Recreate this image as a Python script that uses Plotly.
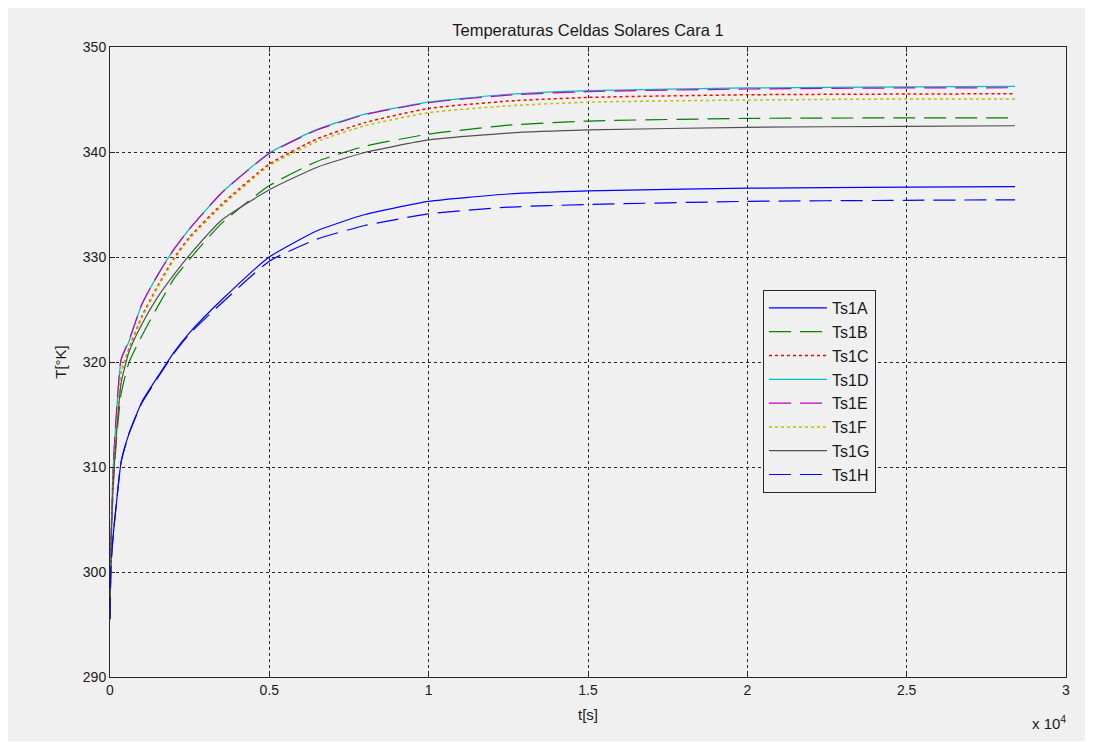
import plotly.graph_objects as go

# time samples [s]
t = [0, 30, 100, 200, 350, 600, 1000, 1500, 2000, 2500, 3500, 5000, 6500, 8000,
     10000, 12500, 15000, 20000, 25000, 28400]

ts1a = [295.5, 300.5, 303.5, 306.5, 310.5, 313.2, 316.2, 318.6, 320.9, 322.8, 325.9, 330.0,
        332.5, 334.05, 335.3, 336.0, 336.3, 336.55, 336.65, 336.7]
ts1b = [296.0, 302.0, 308.0, 312.5, 317.0, 320.0, 322.5, 325.3, 327.9, 329.8, 333.2, 336.8,
        339.1, 340.55, 341.7, 342.55, 342.95, 343.2, 343.25, 343.25]
ts1c = [296.0, 302.5, 309.0, 313.5, 319.0, 321.3, 324.35, 327.25, 329.85, 331.9, 335.0, 338.85,
        341.25, 342.8, 344.15, 344.85, 345.2, 345.45, 345.52, 345.55]
ts1d = [296.0, 303.0, 310.0, 315.0, 320.2, 322.0, 325.5, 328.3, 330.7, 332.7, 336.1, 339.9,
        342.15, 343.6, 344.75, 345.5, 345.85, 346.1, 346.2, 346.25]
ts1e = [296.0, 303.0, 310.0, 315.1, 320.3, 322.1, 325.5, 328.3, 330.7, 332.7, 336.1, 339.85,
        342.1, 343.55, 344.7, 345.42, 345.75, 346.0, 346.1, 346.12]
ts1f = [296.0, 302.5, 309.0, 313.5, 319.0, 321.2, 324.2, 327.1, 329.7, 331.75, 334.8, 338.7,
        341.0, 342.5, 343.75, 344.4, 344.75, 344.95, 345.05, 345.05]
ts1g = [296.0, 302.5, 308.5, 313.0, 318.0, 321.0, 323.6, 326.2, 328.3, 330.2, 333.5, 336.4,
        338.55, 339.95, 341.15, 341.8, 342.1, 342.35, 342.45, 342.5]
ts1h = [295.5, 300.5, 303.5, 306.5, 310.5, 313.2, 316.1, 318.5, 320.8, 322.7, 325.6, 329.6,
        331.7, 333.0, 334.1, 334.75, 335.0, 335.3, 335.4, 335.45]

names = ["Ts1A", "Ts1B", "Ts1C", "Ts1D", "Ts1E", "Ts1F", "Ts1G", "Ts1H"]
series = [ts1a, ts1b, ts1c, ts1d, ts1e, ts1f, ts1g, ts1h]
colors = ["#0000FF", "#008000", "#FF0000", "#00BFBF", "#BF00BF", "#BFBF00", "#505050", "#0000FF"]
dashes = ["solid", "22px,9px", "3px,3px", "solid", "22px,9px", "3px,3px", "solid", "22px,9px"]
widths = [1.2, 1.2, 1.5, 1.2, 1.2, 1.5, 1.2, 1.2]

xtick_vals = [0, 5000, 10000, 15000, 20000, 25000, 30000]
xtick_text = ["0", "0.5", "1", "1.5", "2", "2.5", "3"]
ytick_vals = [290, 300, 310, 320, 330, 340, 350]

FONT = "Arial, Liberation Sans, sans-serif"
BG = "#f0f0f0"
TXT = "#1a1a1a"

# page has an 8px body margin; figure occupies page x 8..1093, y 8..742
OFF = 8
W, H = 1093 - OFF, 742 - OFF
L, R, T, B = 110 - OFF, 27, 47 - OFF, 65
pw, ph = W - L - R, H - T - B
PL, PB = 110, 677  # page coords of plot left / bottom

fig = go.Figure()
for n, s, c, d, w in zip(names, series, colors, dashes, widths):
    fig.add_trace(go.Scatter(x=t, y=s, name=n, mode="lines",
                             line=dict(color=c, width=w, dash=d, shape="spline", smoothing=0.5)))

axis_common = dict(showline=True, linecolor="#262626", linewidth=1, mirror="ticks",
                   ticks="inside", ticklen=5, tickcolor="#262626",
                   showgrid=True, gridcolor="#262626", gridwidth=1, griddash="3px,3px",
                   zeroline=False, tickfont=dict(family=FONT, size=14, color=TXT))

fig.update_layout(
    width=W, height=H,
    margin=dict(l=L, r=R, t=T, b=B),
    paper_bgcolor="white", plot_bgcolor=BG,
    font=dict(family=FONT, size=14, color=TXT),
    title=dict(text="Temperaturas Celdas Solares Cara 1", x=(588 - OFF) / W, xanchor="center",
               y=1 - (30 - OFF) / H, yanchor="middle", font=dict(family=FONT, size=16.5, color=TXT)),
    xaxis=dict(range=[0, 30000], tickvals=xtick_vals, ticktext=xtick_text,
               title=dict(text="t[s]", standoff=12, font=dict(family=FONT, size=15)), **axis_common),
    yaxis=dict(range=[290, 350], tickvals=ytick_vals,
               title=dict(text="T[°K]", standoff=12, font=dict(family=FONT, size=15)), **axis_common),
    legend=dict(x=(763 - PL) / pw, y=(PB - 290) / ph, xanchor="left", yanchor="top",
                bgcolor=BG, bordercolor="#262626", borderwidth=1,
                font=dict(family=FONT, size=16, color=TXT), itemwidth=58),
    showlegend=True,
)

# grey window background with thin white margin, like the original capture
fig.add_shape(type="rect", xref="paper", yref="paper", layer="below",
              x0=(OFF - PL) / pw, x1=(1088 - PL) / pw, y0=-(741 - PB) / ph, y1=(PB - OFF) / ph,
              fillcolor=BG, line=dict(width=0))

fig.add_annotation(text="x 10<sup>4</sup>", xref="paper", yref="paper",
                   x=(1068 - PL) / pw, y=-(722 - PB) / ph, xanchor="right", yanchor="middle",
                   showarrow=False, font=dict(family=FONT, size=15, color=TXT))

fig.write_html("out.html")
